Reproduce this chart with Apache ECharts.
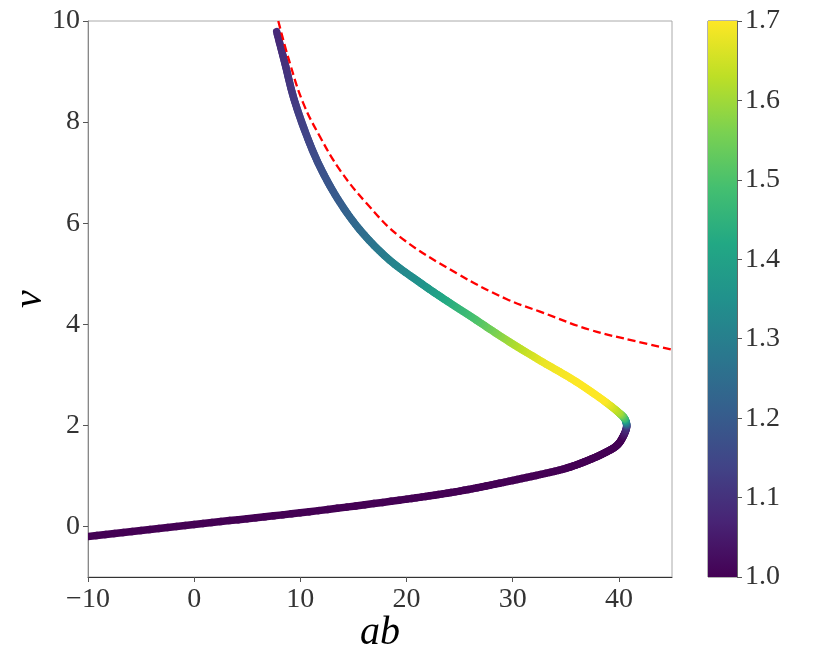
<!DOCTYPE html>
<html>
<head>
<meta charset="utf-8">
<script src="https://cdn.jsdelivr.net/npm/echarts@6/dist/echarts.min.js"></script>
<style>
  html, body { margin: 0; padding: 0; background: #fff; }
  #main { width: 830px; height: 664px; }
</style>
</head>
<body>
<div id="main"></div>
<script>
// curve: ab, v and colour value, lower branch -> nose -> upper branch
const curveAb = [-10, 0, 10, 20, 25, 30, 35, 37, 38.5, 39.8, 40.35, 40.73,
    40.55, 40.0, 38.5, 35.7, 32.6, 29.4, 26.3, 23.3, 21.3, 18.4, 15.6, 13.4, 11.7, 10.4, 9.34, 8.55, 7.77];
const curveV = [-0.2, 0.04, 0.27, 0.54, 0.7, 0.91, 1.15, 1.3, 1.44, 1.6, 1.76, 1.98,
    2.13, 2.25, 2.5, 2.9, 3.28, 3.69, 4.12, 4.53, 4.82, 5.27, 5.87, 6.52, 7.18, 7.84, 8.5, 9.16, 9.79];
const curveC = [1.0, 1.0, 1.0, 1.0, 1.0, 1.0, 1.0, 1.0, 1.0, 1.0, 1.0, 1.1,
    1.45, 1.6, 1.7, 1.7, 1.68, 1.6, 1.5, 1.42, 1.36, 1.31, 1.25, 1.2, 1.17, 1.14, 1.12, 1.1, 1.08];

// red dashed reference curve
const dashAb = [7.92, 9.02, 10.28, 11.85, 13.73, 16.25, 19.38, 24.72, 29.4, 32.57, 37.28, 41.68, 45];
const dashV = [10, 9.16, 8.37, 7.71, 7.05, 6.39, 5.73, 5.01, 4.5, 4.25, 3.89, 3.66, 3.5];

const colorMin = 1.0, colorMax = 1.7;
const xTicks = [-10, 0, 10, 20, 30, 40];
const yTicks = [0, 2, 4, 6, 8, 10];

// viridis stops
const viridis = ['#440154', '#482475', '#414487', '#355f8d', '#2a788e', '#21918c', '#22a884', '#44bf70', '#7ad151', '#bddf26', '#fde725'];

const hexToRgb = (h) => [parseInt(h.slice(1, 3), 16), parseInt(h.slice(3, 5), 16), parseInt(h.slice(5, 7), 16)];
const viridisRgb = viridis.map(hexToRgb);

// value -> colour
const colorOf = (c) => {
    let t = (c - colorMin) / (colorMax - colorMin);
    t = Math.max(0, Math.min(1, t));
    const pos = t * (viridisRgb.length - 1);
    const i = Math.min(Math.floor(pos), viridisRgb.length - 2);
    const f = pos - i;
    const a = viridisRgb[i], b = viridisRgb[i + 1];
    return 'rgb(' + a.map((v, k) => Math.round(v + (b[k] - v) * f)).join(',') + ')';
};

// centripetal catmull-rom between p1 and p2 (pixel space, only for drawing)
const crPoint = (p0, p1, p2, p3, t) => {
    const d = (a, b) => Math.max(Math.pow(Math.hypot(b[0] - a[0], b[1] - a[1]), 0.5), 1e-4);
    const t0 = 0, t1 = t0 + d(p0, p1), t2 = t1 + d(p1, p2), t3 = t2 + d(p2, p3);
    const u = t1 + (t2 - t1) * t;
    const lerp = (a, b, ta, tb) => [0, 1].map(k => ((tb - u) * a[k] + (u - ta) * b[k]) / (tb - ta));
    const A1 = lerp(p0, p1, t0, t1), A2 = lerp(p1, p2, t1, t2), A3 = lerp(p2, p3, t2, t3);
    const B1 = lerp(A1, A2, t0, t2), B2 = lerp(A2, A3, t1, t3);
    return lerp(B1, B2, t1, t2);
};

const serif = '"Liberation Serif", "DejaVu Serif", serif';
const tickFont = { fontFamily: serif, fontSize: 28, color: '#333' };
const minus = (v) => String(v).replace('-', '\u2212');

const chart = echarts.init(document.getElementById('main'));

chart.setOption({
    backgroundColor: '#fff',
    animation: false,
    grid: [
        { left: 88, top: 21, width: 584, height: 556, show: true, borderColor: '#aaa', borderWidth: 1,
          containLabel: false, outerBoundsMode: 'none' },
        { left: 708, top: 21, width: 29, height: 556, show: true, borderColor: '#666', borderWidth: 1,
          containLabel: false, outerBoundsMode: 'none' }
    ],
    xAxis: [
        {
            gridIndex: 0, type: 'value', min: -10, max: 45,
            name: 'ab', nameLocation: 'middle', nameGap: 36, nameMoveOverlap: false,
            nameTextStyle: { fontFamily: serif, fontStyle: 'italic', fontSize: 40, color: '#000' },
            axisLine: { show: true, onZero: false, lineStyle: { color: '#333', width: 1 } },
            axisTick: { show: true, length: 5, customValues: xTicks, lineStyle: { color: '#555' } },
            axisLabel: Object.assign({ margin: 9, customValues: xTicks, formatter: minus }, tickFont),
            splitLine: { show: false }
        },
        { gridIndex: 1, type: 'value', min: 0, max: 1, show: false }
    ],
    yAxis: [
        {
            gridIndex: 0, type: 'value', min: -1, max: 10,
            name: 'v', nameLocation: 'middle', nameGap: 38, nameMoveOverlap: false,
            nameTextStyle: { fontFamily: serif, fontStyle: 'italic', fontSize: 40, color: '#000' },
            axisLine: { show: true, onZero: false, lineStyle: { color: '#888', width: 1 } },
            axisTick: { show: true, length: 5, customValues: yTicks, lineStyle: { color: '#555' } },
            axisLabel: Object.assign({ margin: 8, customValues: yTicks, formatter: minus }, tickFont),
            splitLine: { show: false }
        },
        {
            gridIndex: 1, type: 'value', min: 1.0, max: 1.7, interval: 0.1, position: 'right',
            axisLine: { show: true, onZero: false, lineStyle: { color: '#666' } },
            axisTick: { show: true, length: 5, lineStyle: { color: '#555' } },
            axisLabel: Object.assign({ margin: 8, formatter: (v) => v.toFixed(1) }, tickFont),
            splitLine: { show: false }
        }
    ],
    series: [
        {
            type: 'line',
            xAxisIndex: 0, yAxisIndex: 0,
            data: dashAb.map((x, i) => [x, dashV[i]]),
            smooth: 0.4,
            showSymbol: false,
            lineStyle: { color: '#ff0000', width: 2.3, type: [8, 4] },
            z: 3
        },
        {
            // thick curve coloured by the third value
            type: 'custom',
            xAxisIndex: 0, yAxisIndex: 0,
            data: curveAb.slice(0, -1).map((x, i) => [x, curveV[i], curveC[i]]),
            clip: true,
            renderItem: (params, api) => {
                const i = params.dataIndex;
                const n = curveAb.length;
                const P = (k) => api.coord([curveAb[k], curveV[k]]);
                const p1 = P(i), p2 = P(i + 1);
                const p0 = i > 0 ? P(i - 1) : [2 * p1[0] - p2[0], 2 * p1[1] - p2[1]];
                const p3 = i + 2 < n ? P(i + 2) : [2 * p2[0] - p1[0], 2 * p2[1] - p1[1]];
                const c1 = curveC[i], c2 = curveC[i + 1];
                const steps = 12;
                const children = [];
                let prev = p1;
                for (let s = 1; s <= steps; s++) {
                    const t = s / steps;
                    const q = s === steps ? p2 : crPoint(p0, p1, p2, p3, t);
                    children.push({
                        type: 'line',
                        shape: { x1: prev[0], y1: prev[1], x2: q[0], y2: q[1] },
                        style: { stroke: colorOf(c1 + (c2 - c1) * (t - 0.5 / steps)), lineWidth: 7.5, lineCap: 'round' }
                    });
                    prev = q;
                }
                return { type: 'group', children: children };
            },
            z: 2
        },
        {
            // colour bar
            type: 'custom',
            xAxisIndex: 1, yAxisIndex: 1,
            data: [[0, colorMin, 1, colorMax]],
            renderItem: (params, api) => {
                const a = api.coord([api.value(0), api.value(1)]);
                const b = api.coord([api.value(2), api.value(3)]);
                return {
                    type: 'rect',
                    shape: { x: a[0], y: b[1], width: b[0] - a[0], height: a[1] - b[1] },
                    style: {
                        fill: new echarts.graphic.LinearGradient(0, 1, 0, 0,
                            viridis.map((c, k) => ({ offset: k / (viridis.length - 1), color: c })))
                    }
                };
            }
        }
    ]
});
</script>
</body>
</html>
